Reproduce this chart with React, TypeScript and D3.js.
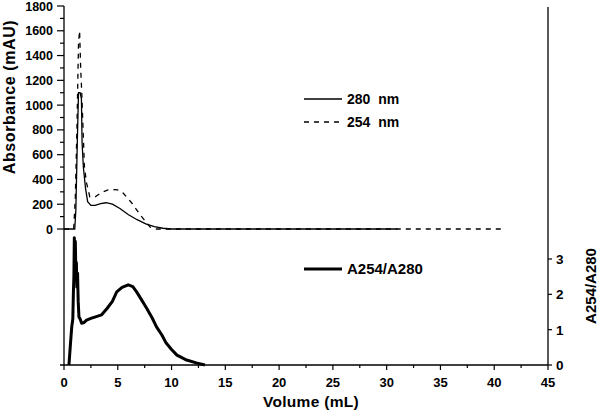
import React, { useEffect, useRef } from 'react';
import * as d3 from 'd3';

// 280 nm trace (solid)
const vol280 = [0, 1.0, 1.1, 1.25, 1.35, 1.5, 1.62, 1.68, 1.8, 2.0, 2.2, 2.5, 2.9, 3.4, 3.9, 4.5, 5.2, 6.0, 6.8, 7.6, 8.4, 9.2, 10.0, 31.0];
const abs280 = [0, 0, 150, 750, 1100, 1100, 1050, 700, 500, 330, 220, 190, 190, 205, 212, 200, 165, 115, 75, 42, 20, 6, 0, 0];

// 254 nm trace (dashed)
const vol254 = [0, 0.9, 1.05, 1.2, 1.35, 1.45, 1.55, 1.65, 1.9, 2.1, 2.4, 2.9, 3.5, 4.1, 4.6, 5.0, 5.5, 6.3, 7.1, 8.0, 8.6, 41.0];
const abs254 = [0, 0, 250, 800, 1500, 1600, 1300, 1100, 500, 370, 260, 260, 295, 315, 318, 315, 290, 210, 113, 16, 0, 0];

// A254/A280 ratio (thick)
const volRatio = [0.46, 0.6, 0.72, 0.82, 0.87, 0.92, 0.96, 1.0, 1.05, 1.1, 1.15, 1.2, 1.26, 1.32, 1.39, 1.5, 1.64, 1.85, 2.1, 2.5, 3.0, 3.5, 4.0, 4.5, 4.9, 5.4, 5.97, 6.4, 6.75, 7.2, 7.7, 8.2, 8.6, 9.1, 9.5, 10.0, 10.5, 11.0, 11.4, 12.3, 13.1];
const ratio = [0, 0.6, 1.08, 1.3, 2.0, 2.5, 3.6, 2.6, 3.5, 2.7, 2.9, 2.2, 2.6, 1.8, 1.36, 1.3, 1.18, 1.2, 1.27, 1.32, 1.37, 1.42, 1.6, 1.8, 2.07, 2.2, 2.27, 2.22, 2.07, 1.85, 1.6, 1.33, 1.08, 0.85, 0.62, 0.44, 0.28, 0.2, 0.14, 0.06, 0];

const xTicks = [0, 5, 10, 15, 20, 25, 30, 35, 40, 45];
const absTicks = [0, 200, 400, 600, 800, 1000, 1200, 1400, 1600, 1800];
const ratioTicks = [0, 1, 2, 3];

const FONT = '"Liberation Sans", Arial, sans-serif';

const App = () => {
  const ref = useRef<SVGSVGElement>(null);

  useEffect(() => {
    if (!ref.current) return;
    const svg = d3.select(ref.current);
    svg.selectAll('*').remove();

    const x = d3.scaleLinear().domain([0, 45]).range([64, 548]);
    const yAbs = d3.scaleLinear().domain([0, 1800]).range([229, 6]);
    const yRatio = d3.scaleLinear().domain([0, 3]).range([365, 259]);
    const xAxisY = 365;

    // axis lines
    svg.append('line').attr('x1', x(0)).attr('x2', x(0)).attr('y1', yAbs(1800)).attr('y2', xAxisY)
      .attr('stroke', '#000').attr('stroke-width', 1.3);
    svg.append('line').attr('x1', x(45)).attr('x2', x(45)).attr('y1', 7).attr('y2', xAxisY)
      .attr('stroke', '#000').attr('stroke-width', 1.3);
    svg.append('line').attr('x1', x(0) - 4).attr('x2', x(45)).attr('y1', xAxisY).attr('y2', xAxisY)
      .attr('stroke', '#000').attr('stroke-width', 1.3);

    // left ticks (major + minor)
    d3.range(0, 1801, 100).forEach(v => {
      const major = v % 200 === 0;
      svg.append('line').attr('x1', x(0) - (major ? 7 : 4)).attr('x2', x(0))
        .attr('y1', yAbs(v)).attr('y2', yAbs(v)).attr('stroke', '#000').attr('stroke-width', 1.2);
    });
    svg.selectAll('text.abs').data(absTicks).enter().append('text')
      .attr('x', x(0) - 11).attr('y', d => yAbs(d) + 4.5)
      .attr('text-anchor', 'end').attr('font-family', FONT).attr('font-weight', 'bold')
      .attr('font-size', 12.5).text(d => d);

    // bottom ticks
    d3.range(0, 45.01, 2.5).forEach(v => {
      const major = v % 5 === 0;
      svg.append('line').attr('x1', x(v)).attr('x2', x(v))
        .attr('y1', xAxisY).attr('y2', xAxisY + (major ? 5 : 3)).attr('stroke', '#000').attr('stroke-width', 1.2);
    });
    svg.selectAll('text.xt').data(xTicks).enter().append('text')
      .attr('x', d => x(d)).attr('y', 387).attr('text-anchor', 'middle')
      .attr('font-family', FONT).attr('font-weight', 'bold').attr('font-size', 13).text(d => d);

    // right ticks
    ratioTicks.forEach(v => {
      svg.append('line').attr('x1', x(45)).attr('x2', x(45) + 4)
        .attr('y1', yRatio(v)).attr('y2', yRatio(v)).attr('stroke', '#000').attr('stroke-width', 1.2);
    });
    svg.selectAll('text.rt').data(ratioTicks).enter().append('text')
      .attr('x', x(45) + 8).attr('y', d => yRatio(d) + 5)
      .attr('font-family', FONT).attr('font-weight', 'bold').attr('font-size', 13.5).text(d => d);

    // titles
    svg.append('text').attr('x', 311).attr('y', 407).attr('text-anchor', 'middle')
      .attr('font-family', FONT).attr('font-weight', 'bold').attr('font-size', 15.5)
      .attr('letter-spacing', 0.3).text('Volume (mL)');
    svg.append('text').attr('transform', 'translate(15,97) rotate(-90)').attr('text-anchor', 'middle')
      .attr('font-family', FONT).attr('font-weight', 'bold').attr('font-size', 16)
      .attr('letter-spacing', 0.6).text('Absorbance (mAU)');
    svg.append('text').attr('transform', 'translate(596,286) rotate(-90)').attr('text-anchor', 'middle')
      .attr('font-family', FONT).attr('font-weight', 'bold').attr('font-size', 15).text('A254/A280');

    // curves
    const lineAbs = d3.line<[number, number]>().x(d => x(d[0])).y(d => yAbs(d[1]));
    const lineRatio = d3.line<[number, number]>().x(d => x(d[0])).y(d => yRatio(d[1]));

    svg.append('path').datum(d3.zip(vol254, abs254) as [number, number][])
      .attr('d', lineAbs).attr('fill', 'none').attr('stroke', '#000')
      .attr('stroke-width', 1.3).attr('stroke-dasharray', '5,5');
    svg.append('path').datum(d3.zip(vol280, abs280) as [number, number][])
      .attr('d', lineAbs).attr('fill', 'none').attr('stroke', '#000').attr('stroke-width', 1.3);
    svg.append('path').datum(d3.zip(volRatio, ratio) as [number, number][])
      .attr('d', lineRatio).attr('fill', 'none').attr('stroke', '#000')
      .attr('stroke-width', 3).attr('stroke-linejoin', 'round');

    // legends
    const legend = [
      { label: '280 nm', y: 99, dash: null, w: 1.3, size: 14 },
      { label: '254 nm', y: 122, dash: '5,5', w: 1.3, size: 14 },
      { label: 'A254/A280', y: 269, dash: null, w: 3, size: 15 },
    ];
    legend.forEach(l => {
      svg.append('line').attr('x1', 304).attr('x2', 342).attr('y1', l.y).attr('y2', l.y)
        .attr('stroke', '#000').attr('stroke-width', l.w).attr('stroke-dasharray', l.dash);
      svg.append('text').attr('x', 347).attr('y', l.y + 5).attr('font-family', FONT)
        .attr('font-weight', 'bold').attr('font-size', l.size)
        .attr('word-spacing', l.w > 2 ? 0 : 4).text(l.label);
    });
  }, []);

  return (
    <svg ref={ref} width={600} height={411}
      style={{ position: 'absolute', left: 0, top: 0, background: '#fff' }} />
  );
};

export default App;
